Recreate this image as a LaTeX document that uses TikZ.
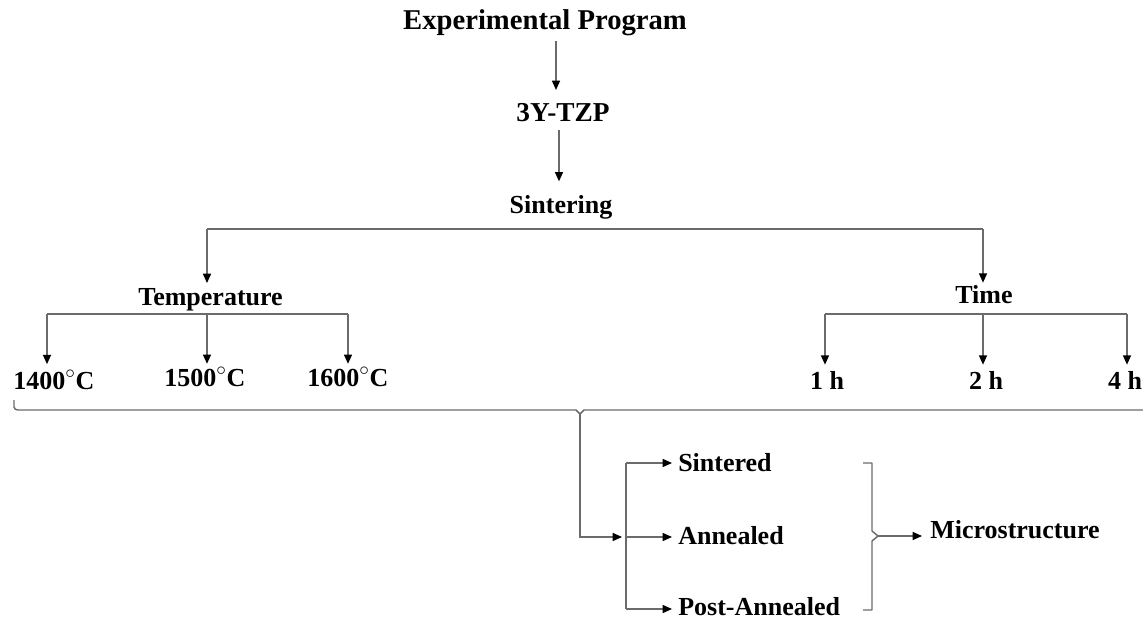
\documentclass[tikz,border=0pt]{standalone}
\usepackage{fontspec}
\setmainfont{Liberation Serif}
\usetikzlibrary{arrows.meta}
\begin{document}
\begin{tikzpicture}[x=0.75pt,y=-0.75pt,
  txt/.style={font=\fontsize{19.5}{23}\selectfont\bfseries, inner sep=0pt},
  ttl/.style={font=\fontsize{21.5}{25}\selectfont\bfseries, inner sep=0pt},
  ln/.style={draw=black!58, line width=1.1pt},
  arr/.style={ln, -{Triangle[length=7pt,width=6pt,color=black]}}]
\useasboundingbox (0,0) rectangle (1143,621);

% text nodes
\node[ttl,anchor=base] (ep) at (545,29) {Experimental Program};
\node[txt,font=\fontsize{20.5}{24}\selectfont\bfseries,anchor=base] (tzp) at (563,121) {3Y-TZP};
\node[txt,anchor=base] (sin) at (561,213) {Sintering};
\node[txt,anchor=base] (temp) at (210.5,305) {Temperature};
\node[txt,anchor=base] (time) at (984,303) {Time};
\node[txt,anchor=base] (t14) at (54,389) {1400$^\circ$C};
\node[txt,anchor=base] (t15) at (205,386) {1500$^\circ$C};
\node[txt,anchor=base] (t16) at (348,386) {1600$^\circ$C};
\node[txt,anchor=base] (h1) at (827,389) {1 h};
\node[txt,anchor=base] (h2) at (986,389) {2 h};
\node[txt,anchor=base] (h4) at (1125,389) {4 h};
\node[txt,anchor=base west] (sd) at (678,471) {Sintered};
\node[txt,anchor=base west] (an) at (678,544) {Annealed};
\node[txt,anchor=base west] (pa) at (678,615) {Post-Annealed};
\node[txt,anchor=base west] (ms) at (930,538) {Microstructure};

% junction coordinates
\coordinate (c1) at (556,0);
\coordinate (c2) at (559,0);
\coordinate (ja) at (207,229);
\coordinate (jb) at (983,229);
\coordinate (tl) at (47,314);
\coordinate (tm) at (207,314);
\coordinate (tr) at (348,314);
\coordinate (hl) at (825,314);
\coordinate (hm) at (983,314);
\coordinate (hr) at (1127,314);
\coordinate (bl) at (14,400);
\coordinate (bt) at (580,414);
\coordinate (vt) at (626,463);
\coordinate (vm) at (626,537);
\coordinate (vb) at (626,609);
\coordinate (rt) at (878,536);

% top chain
\draw[arr, shorten <=4pt, shorten >=9.5pt] (ep.south -| c1) -- (tzp.north -| c1);
\draw[arr, shorten <=6pt, shorten >=10pt] (tzp.south -| c2) -- (sin.north -| c2);

% sintering split
\draw[ln] (ja) -- (jb);
\draw[arr, shorten >=3.5pt] (ja) -- (ja |- temp.north);
\draw[arr, shorten >=1.5pt] (jb) -- (jb |- time.north);

% temperature split
\draw[ln] (tl) -- (tr);
\draw[arr, shorten >=4.5pt] (tl) -- (tl |- t14.north);
\draw[arr, shorten >=2.5pt] (tm) -- (tm |- t15.north);
\draw[arr, shorten >=2.5pt] (tr) -- (tr |- t16.north);

% time split
\draw[ln] (hl) -- (hr);
\draw[arr, shorten >=4.5pt] (hl) -- (hl |- h1.north);
\draw[arr, shorten >=4.5pt] (hm) -- (hm |- h2.north);
\draw[arr, shorten >=4.5pt] (hr) -- (hr |- h4.north);

% long brace
\draw[ln, line join=round] (bl) -- (14,407) to[out=-90,in=180] (18,410) -- (576,410) -- (bt) -- (584,410) -- (1143,410);
\draw[arr, shorten >=3pt] (bt) |- (vm);

% branch to treatments
\draw[ln] (vt) -- (vb);
\draw[arr, shorten >=4.5pt] (vt) -- (sd.west |- vt);
\draw[arr, shorten >=4.5pt] (vm) -- (an.west |- vm);
\draw[arr, shorten >=4.5pt] (vb) -- (pa.west |- vb);

% right bracket
\draw[ln, line join=round] (863,463) -- (872,463) -- (872,531) -- (rt) -- (872,541) -- (872,610) -- (863,610);
\draw[arr, shorten >=6pt] (rt) -- (ms.west |- rt);
\end{tikzpicture}
\end{document}
